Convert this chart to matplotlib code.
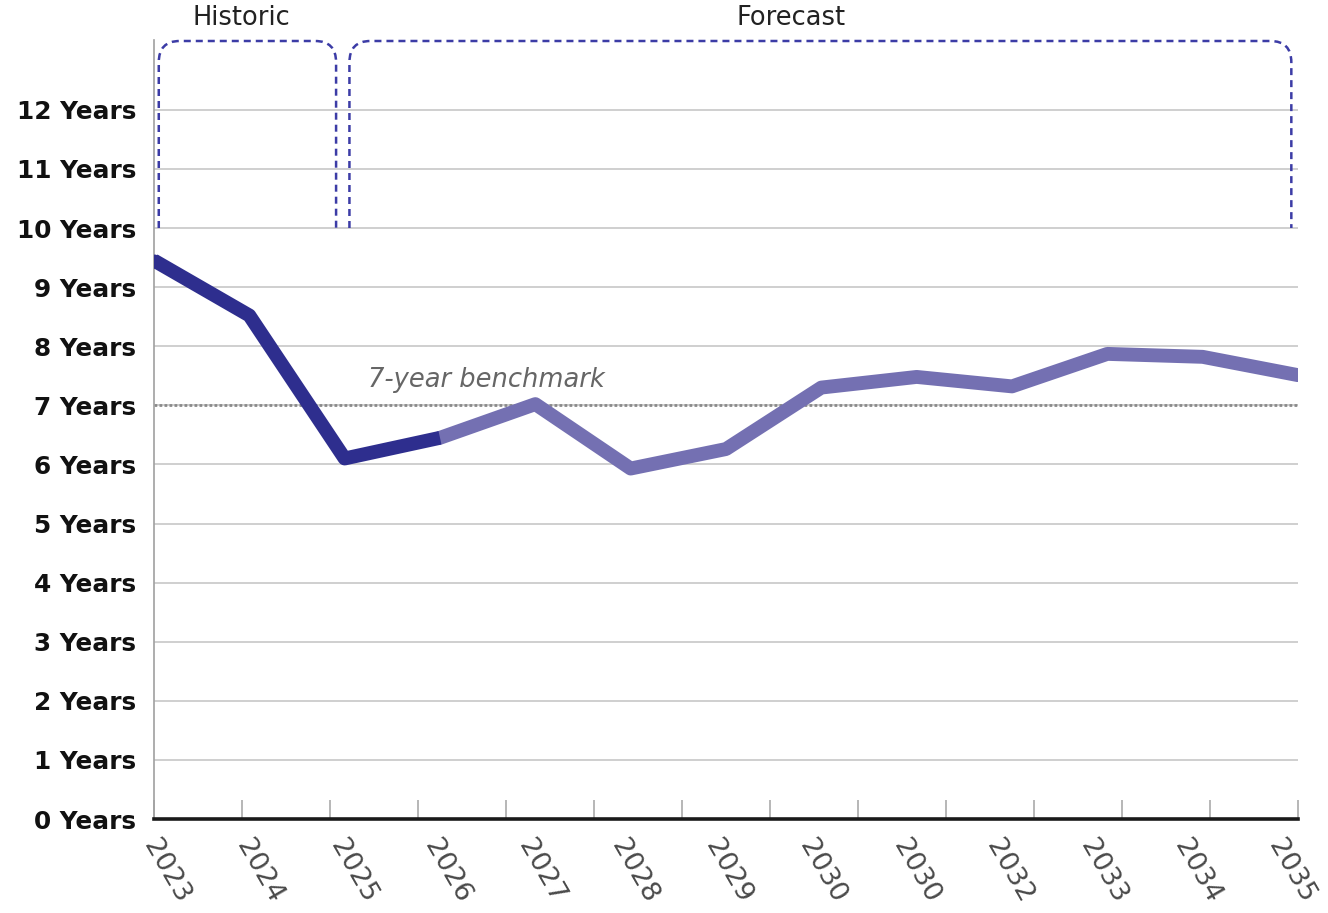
import numpy as np
import matplotlib
matplotlib.use("Agg")
import matplotlib.pyplot as plt
import matplotlib.transforms as mtransforms
from matplotlib.path import Path
from matplotlib.patches import PathPatch

plt.rcParams['font.family'] = ['DejaVu Sans']

# Category labels along the bottom
years = ['2023', '2024', '2025', '2026', '2027', '2028', '2029',
         '2030', '2030', '2032', '2033', '2034', '2035']
# Years of supply: historic values (2023-2026) and forecast (2026-2035)
historic = [9.45, 8.52, 6.10, 6.45]
forecast = [6.45, 7.02, 5.93, 6.26, 7.30, 7.48, 7.32, 7.87, 7.82, 7.51]
benchmark = 7
y_ticks = list(range(0, 13))
y_labels = [f'{v} Years' for v in y_ticks]

DARK = '#2e2e8e'
LIGHT = '#7470b2'
BRACKET = '#3c3ca6'

fig = plt.figure(figsize=(13.28, 9.13), dpi=100)
ax = fig.add_axes([154 / 1328, 1 - 819 / 913, (1298 - 154) / 1328, (819 - 40) / 913])

x = np.arange(len(years))
x_hist = x[:len(historic)]
x_fore = x[len(historic) - 1:]

ax.set_xlim(0, len(years) - 1)
ax.set_ylim(0, (819 - 40) / 59.1)

# horizontal gridlines
for v in y_ticks[1:]:
    ax.axhline(v, color='#cccccc', lw=1.3, zorder=1)

# benchmark
ax.axhline(benchmark, color='#8a8a8a', lw=2.0, linestyle=(0, (1, 0.8)), zorder=2)
ax.text(2.245, benchmark + 0.43, '7-year benchmark', style='italic', fontsize=18.5,
        color='#666666', ha='left', va='center', zorder=3)

# series
ax.plot(x_fore, forecast, color=LIGHT, lw=10, solid_capstyle='round',
        solid_joinstyle='round', zorder=4)
ax.plot(x_hist, historic, color=DARK, lw=10, solid_capstyle='butt',
        solid_joinstyle='round', zorder=5)
ax.plot(x_hist[:1], historic[:1], 'o', color=DARK, ms=10, mec='none', zorder=5)


def bracket(x0, x1, ybot, ytop, rx, ry):
    verts = [(x0, ybot), (x0, ytop - ry), (x0, ytop), (x0 + rx, ytop),
             (x1 - rx, ytop), (x1, ytop), (x1, ytop - ry), (x1, ybot)]
    codes = [Path.MOVETO, Path.LINETO, Path.CURVE3, Path.CURVE3,
             Path.LINETO, Path.CURVE3, Path.CURVE3, Path.LINETO]
    return PathPatch(Path(verts, codes), fill=False, edgecolor=BRACKET, lw=1.8,
                     linestyle=(0, (2.8, 2.0)), clip_on=False, zorder=3)


top = (819 - 41) / 59.1
ax.add_patch(bracket(0.05, 1.91, 10, top, 0.22, 0.36))
ax.add_patch(bracket(2.05, 11.93, 10, top, 0.22, 0.36))

ax.text(0.92, 13.55, 'Historic', fontsize=18.5, color='#222222', ha='center', va='center')
ax.text(6.68, 13.55, 'Forecast', fontsize=18.5, color='#222222', ha='center', va='center')

# axes styling
for s in ['top', 'right']:
    ax.spines[s].set_visible(False)
ax.spines['left'].set_color('#a0a0a0')
ax.spines['left'].set_linewidth(1.2)
ax.spines['bottom'].set_color('#1a1a1a')
ax.spines['bottom'].set_linewidth(2.6)
ax.spines['bottom'].set_zorder(6)

ax.set_yticks(y_ticks)
ax.set_yticklabels(y_labels, fontsize=17.8, fontweight='bold', color='#111111')
ax.tick_params(axis='y', length=0, pad=13)

# category labels: slanted, centred slightly inside the plot edges
ax.set_xticks([])
ax.set_xticks(np.linspace(0, len(years) - 1, 14), minor=True)
ax.tick_params(axis='x', which='minor', direction='in', length=14, width=1.2,
               color='#aaaaaa', labelbottom=False)
label_tf = mtransforms.blended_transform_factory(ax.transData, ax.transAxes) + \
    mtransforms.ScaledTranslation(0, -0.52, fig.dpi_scale_trans)
step = 0.9834
for i, lab in enumerate(years):
    ax.text(0.126 + i * step, 0, lab, transform=label_tf, fontsize=19.5,
            color='#4a4a4a', rotation=-60, ha='center', va='center',
            rotation_mode='anchor', clip_on=False)

fig.savefig('out.png', dpi=100)
